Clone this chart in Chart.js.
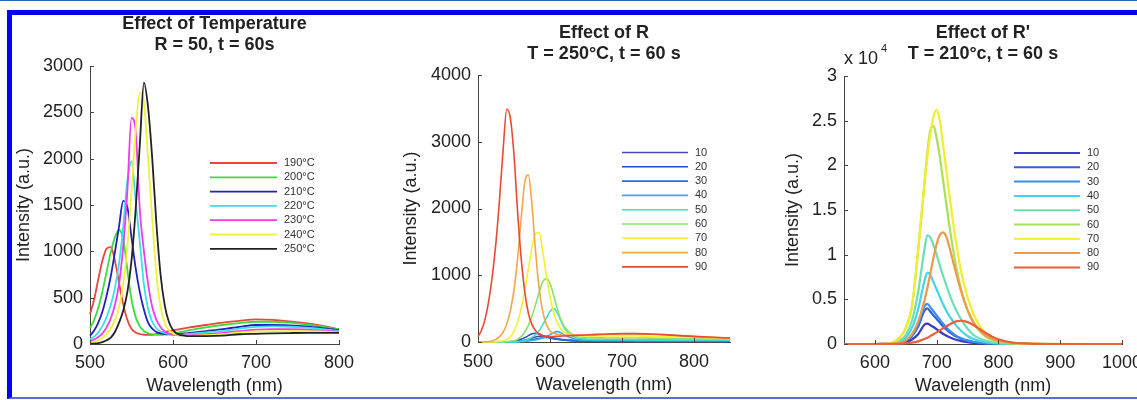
<!DOCTYPE html>
<html><head><meta charset="utf-8">
<script src="https://cdn.jsdelivr.net/npm/chart.js@4.4.1/dist/chart.umd.min.js"></script>
<style>
html,body{margin:0;padding:0;background:#fff;width:1137px;height:400px;overflow:hidden;position:relative}
canvas{position:absolute;left:0;top:0}
#topline{position:absolute;left:0;top:0;width:1137px;height:1px;background:#2a64a8}
#frame{position:absolute;left:7px;top:10px;width:1200px;height:382px;border-left:5px solid #0000ff;border-top:5px solid #0000ff;border-bottom:2px solid #5b6be8}
</style></head><body>
<div id="topline"></div>
<div id="frame"></div>
<canvas id="c1" width="1137" height="400"></canvas>
<canvas id="c2" width="1137" height="400"></canvas>
<canvas id="c3" width="1137" height="400"></canvas>
<script>
const FONT = "'Liberation Sans', Arial, Helvetica, sans-serif";
const TXT = '#222222';
const AX = '#444444';

// ---------- Panel 1: Effect of Temperature ----------
const wl1 = [500,505,510,515,520,525,530,535,540,545,550,555,560,565,570,575,580,585,590,595,600,605,610,615,620,640,660,680,700,720,740,760,780,800];
const tempLabels = ['190°C','200°C','210°C','220°C','230°C','240°C','250°C'];
const T190 = [320,480,700,900,1030,1045,900,660,430,260,165,125,108,100,98,100,108,118,128,138,148,156,164,172,180,205,230,250,265,260,245,225,195,160];
const T200 = [170,260,390,570,780,990,1150,1230,1130,800,480,290,190,140,115,105,100,100,103,108,115,122,130,140,150,180,205,225,240,240,230,212,188,160];
const T210 = [90,145,230,350,520,730,990,1270,1545,1480,1150,820,560,370,230,165,130,115,108,105,104,107,111,115,120,140,160,185,205,205,200,190,172,150];
const T220 = [50,80,125,195,290,420,600,870,1260,1760,1970,1550,1100,640,380,240,170,135,118,108,102,100,102,106,110,125,142,165,185,190,186,176,160,140];
const T230 = [30,48,75,115,180,275,420,650,1050,1650,2440,2300,1450,1000,650,400,260,180,135,112,102,96,94,94,95,105,120,140,155,160,160,155,145,130];
const T240 = [10,20,40,70,110,170,260,400,650,1050,1650,2300,2710,2600,2000,1350,750,400,230,150,115,100,92,90,90,95,105,125,135,140,140,140,135,125];
const T250 = [0,5,10,20,40,70,130,230,360,560,900,1450,2150,2820,2550,2000,1300,750,420,240,150,110,95,88,85,85,90,105,110,115,118,120,120,120];
const tempColors = ['#e8473f','#3ddc3d','#2222b8','#38e0ee','#ee3cee','#f2f23a','#222222'];
const xTicks1 = [500,600,700,800];
const yTicks1 = [0,500,1000,1500,2000,2500,3000];

// ---------- Panel 2: Effect of R ----------
const wl2 = [500,505,510,515,520,525,530,535,540,545,550,555,560,565,570,575,580,585,590,595,600,605,610,615,620,630,640,660,680,700,720,740,760,780,800,820,850];
const rLabels = ['10','20','30','40','50','60','70','80','90'];
const R10 = [0,0,0,0,0,0,0,0,0,0,3,8,15,25,40,58,75,87,90,82,68,55,42,33,27,20,15,12,11,10,10,10,10,10,10,10,10];
const R20 = [0,0,0,0,0,0,0,0,0,5,12,25,40,65,95,122,130,118,95,75,60,50,42,36,30,24,20,17,15,15,14,14,13,13,12,12,12];
const R30 = [0,0,0,0,0,0,0,0,0,0,0,5,10,17,25,35,45,55,65,70,68,60,50,42,35,25,20,16,15,15,14,14,13,13,12,12,12];
const R40 = [0,0,0,0,0,0,0,0,0,0,0,0,5,10,15,22,30,45,60,85,110,140,155,140,105,60,35,25,23,22,21,21,20,20,20,20,20];
const R50 = [0,0,0,0,0,0,0,0,0,0,0,5,10,20,40,70,110,170,260,360,460,500,440,320,210,95,55,40,37,35,34,33,32,31,30,29,28];
const R60 = [0,0,0,0,0,0,0,0,5,10,20,40,80,150,250,390,560,750,900,950,880,700,500,340,230,120,80,65,60,60,60,58,55,52,50,48,45];
const R70 = [0,0,0,0,0,5,10,20,40,80,160,300,500,780,1100,1420,1620,1640,1350,1000,680,440,290,200,150,110,95,90,90,90,90,85,80,75,70,65,55];
const R80 = [0,0,0,5,20,40,80,150,270,470,780,1250,1850,2400,2500,2050,1350,800,450,260,170,130,115,110,105,105,105,110,115,120,120,115,105,95,80,70,55];
const R90 = [80,180,350,620,1000,1500,2150,2900,3490,3350,2800,1950,1250,750,430,260,170,120,95,85,80,82,85,88,90,95,100,110,120,125,125,120,110,95,85,75,60];
const rColors = ['#4a4ab0','#2b45c8','#2c6fe0','#34b4e0','#3ee0c8','#8ce070','#f5f030','#f0a848','#e84a34'];
const xTicks2 = [500,600,700,800];
const yTicks2 = [0,1000,2000,3000,4000];

// ---------- Panel 3: Effect of R' ----------
const wl3 = [550,600,620,630,640,650,660,670,680,685,690,695,700,705,710,715,720,730,740,750,760,770,780,790,800,820,850,900,950,1000];
const pLabels = ['10','20','30','40','50','60','70','80','90'];
const P10 = [0,0,3,20,65,200,500,1100,2150,2280,2100,1900,1650,1400,1150,950,780,500,320,200,120,75,45,28,15,5,0,0,0,0];
const P20 = [0,0,5,35,115,350,880,1950,3700,3980,3600,3200,2800,2400,2000,1650,1350,880,570,350,220,130,80,50,25,8,0,0,0,0];
const P30 = [0,0,5,40,130,400,1000,2200,4200,4500,4100,3650,3200,2750,2300,1900,1550,1000,650,400,250,150,90,55,30,10,0,0,0,0];
const P40 = [0,0,10,60,220,700,1800,3900,7000,8000,7700,6900,6100,5300,4500,3800,3200,2200,1450,900,550,330,200,120,80,30,10,0,0,0];
const P50 = [0,0,20,100,350,1000,2600,5800,10500,12200,11900,11000,10000,8800,7700,6700,5700,4000,2700,1700,1000,600,350,200,100,40,10,0,0,0];
const P60 = [0,0,50,200,700,1800,4200,10500,17800,21500,24000,24400,23000,21000,18500,16000,13500,9200,6000,3800,2300,1400,800,450,250,80,20,0,0,0];
const P70 = [0,0,50,200,700,1800,4200,10500,17800,21000,23600,25500,26200,25000,22500,19800,17000,12000,8000,5200,3300,2000,1200,700,400,150,50,10,0,0];
const P80 = [0,0,10,30,120,400,1100,2500,4800,6300,8000,9700,11200,12200,12500,12100,11000,8300,5800,3800,2400,1500,900,550,330,120,30,0,0,0];
const P90 = [0,0,0,10,30,70,150,300,550,700,900,1100,1300,1520,1750,1950,2150,2500,2600,2450,2100,1650,1200,820,530,200,50,0,0,0];
const pColors = ['#3c3cc0','#3060d8','#3a90e8','#42d4ea','#6ce0b4','#a8e05a','#f2ee2c','#f09a48','#e8603c'];
const xTicks3 = [600,700,800,900,1000];
const yTicks3 = [0,5000,10000,15000,20000,25000,30000];

function makeChart(id, cfg) {
  const datasets = cfg.series.map((vals, i) => ({
    label: cfg.labels[i],
    data: vals.map((v, k) => ({x: cfg.wl[k], y: v})),
    borderColor: cfg.colors[i],
    borderWidth: cfg.lw,
    pointRadius: 0,
    fill: false,
    cubicInterpolationMode: 'monotone',
    order: -i,
    clip: false
  }));
  const decor = {
    id: 'decor' + id,
    afterDraw(chart) {
      const ctx = chart.ctx, a = chart.chartArea, xs = chart.scales.x, ys = chart.scales.y;
      ctx.save();
      ctx.strokeStyle = AX; ctx.lineWidth = 1;
      cfg.xTicks.forEach(v => { const p = Math.round(xs.getPixelForValue(v)) + 0.5; ctx.beginPath(); ctx.moveTo(p, a.bottom); ctx.lineTo(p, a.bottom - 4); ctx.stroke(); });
      cfg.yTicks.forEach(v => { const p = Math.round(ys.getPixelForValue(v)) + 0.5; ctx.beginPath(); ctx.moveTo(a.left, p); ctx.lineTo(a.left + 4, p); ctx.stroke(); });
      ctx.fillStyle = TXT; ctx.textAlign = 'center'; ctx.textBaseline = 'middle';
      ctx.font = 'bold 18px ' + FONT;
      const cx = (a.left + a.right) / 2;
      cfg.title.forEach((t, i) => ctx.fillText(t, cx, cfg.titleY[i]));
      const L = cfg.legend;
      ctx.font = '11px ' + FONT; ctx.textAlign = 'left';
      cfg.labels.forEach((lab, i) => {
        const y = L.y0 + i * L.dy;
        ctx.strokeStyle = cfg.colors[i]; ctx.lineWidth = Math.min(cfg.lw, 2);
        ctx.beginPath(); ctx.moveTo(L.x1, y); ctx.lineTo(L.x2, y); ctx.stroke();
        ctx.fillStyle = '#333'; ctx.fillText(lab, L.tx, y);
      });
      if (cfg.exp) {
        ctx.fillStyle = TXT;
        ctx.font = '18px ' + FONT; ctx.textAlign = 'left';
        ctx.fillText('x 10', 844, 59);
        ctx.font = '11px ' + FONT;
        ctx.fillText('4', 881, 49);
      }
      ctx.restore();
    }
  };
  const A = cfg.area;
  return new Chart(document.getElementById(id), {
    type: 'line',
    data: {datasets},
    options: {
      responsive: false, animation: false, devicePixelRatio: 1,
      layout: {padding: {left: A.left - 90, top: A.top, right: 1137 - A.right, bottom: 0}},
      plugins: {legend: {display: false}, tooltip: {enabled: false}, title: {display: false}},
      scales: {
        x: {
          type: 'linear', min: cfg.xmin, max: cfg.xmax,
          grid: {display: false, drawTicks: false, tickLength: 0}, border: {display: true, color: AX, width: 1},
          ticks: {color: TXT, font: {family: FONT, size: 18}, padding: cfg.xTickPad, maxRotation: 0, autoSkip: false, callback: v => String(v)},
          afterBuildTicks: s => { s.ticks = cfg.xTicks.map(v => ({value: v})); },
          afterFit: s => { s.height = 400 - A.bottom; s.paddingLeft = 0; s.paddingRight = 0; },
          title: {display: true, text: 'Wavelength (nm)', color: TXT, font: {family: FONT, size: 18}, padding: {top: 0, bottom: cfg.xTitlePad}}
        },
        y: {
          min: cfg.ymin, max: cfg.ymax,
          grid: {display: false, drawTicks: false, tickLength: 0}, border: {display: true, color: AX, width: 1},
          ticks: {color: TXT, font: {family: FONT, size: 18}, padding: 7, autoSkip: false, callback: cfg.yFmt},
          afterBuildTicks: s => { s.ticks = cfg.yTicks.map(v => ({value: v})); },
          afterFit: s => { s.width = 90; s.paddingTop = 0; s.paddingBottom = 0; },
          title: {display: true, text: 'Intensity (a.u.)', color: TXT, font: {family: FONT, size: 18}, padding: {top: cfg.yTitlePad, bottom: 0}}
        }
      }
    },
    plugins: [decor]
  });
}

makeChart('c1', {
  wl: wl1, series: [T190,T200,T210,T220,T230,T240,T250], labels: tempLabels, colors: tempColors, lw: 1.8,
  area: {left: 90, right: 339, top: 66, bottom: 344},
  xmin: 500, xmax: 800, ymin: 0, ymax: 3000, xTicks: xTicks1, yTicks: yTicks1,
  yFmt: v => String(v), xTickPad: 8, xTitlePad: 3, yTitlePad: 13,
  title: ['Effect of Temperature', 'R = 50, t = 60s'], titleY: [24, 45],
  legend: {x1: 210, x2: 277, tx: 284, y0: 163, dy: 14.3}
});
makeChart('c2', {
  wl: wl2, series: [R10,R20,R30,R40,R50,R60,R70,R80,R90], labels: rLabels, colors: rColors, lw: 1.6,
  area: {left: 478, right: 730, top: 75, bottom: 342},
  xmin: 500, xmax: 850, ymin: 0, ymax: 4000, xTicks: xTicks2, yTicks: yTicks2,
  yFmt: v => String(v), xTickPad: 9, xTitlePad: 4, yTitlePad: 12,
  title: ['Effect of R', 'T = 250°C, t = 60 s'], titleY: [33, 54],
  legend: {x1: 622, x2: 688, tx: 695, y0: 152.5, dy: 14.3}
});
makeChart('c3', {
  wl: wl3, series: [P10,P20,P30,P40,P50,P60,P70,P80,P90], labels: pLabels, colors: pColors, lw: 2.2,
  area: {left: 844, right: 1122, top: 76, bottom: 344},
  xmin: 550, xmax: 1000, ymin: 0, ymax: 30000, xTicks: xTicks3, yTicks: yTicks3,
  yFmt: v => String(v / 10000), xTickPad: 8, xTitlePad: 3, yTitlePad: 28,
  title: ["Effect of R'", 'T = 210°c, t = 60 s'], titleY: [33, 54],
  legend: {x1: 1014, x2: 1080, tx: 1087, y0: 153, dy: 14.3}, exp: true
});
</script>
</body></html>
